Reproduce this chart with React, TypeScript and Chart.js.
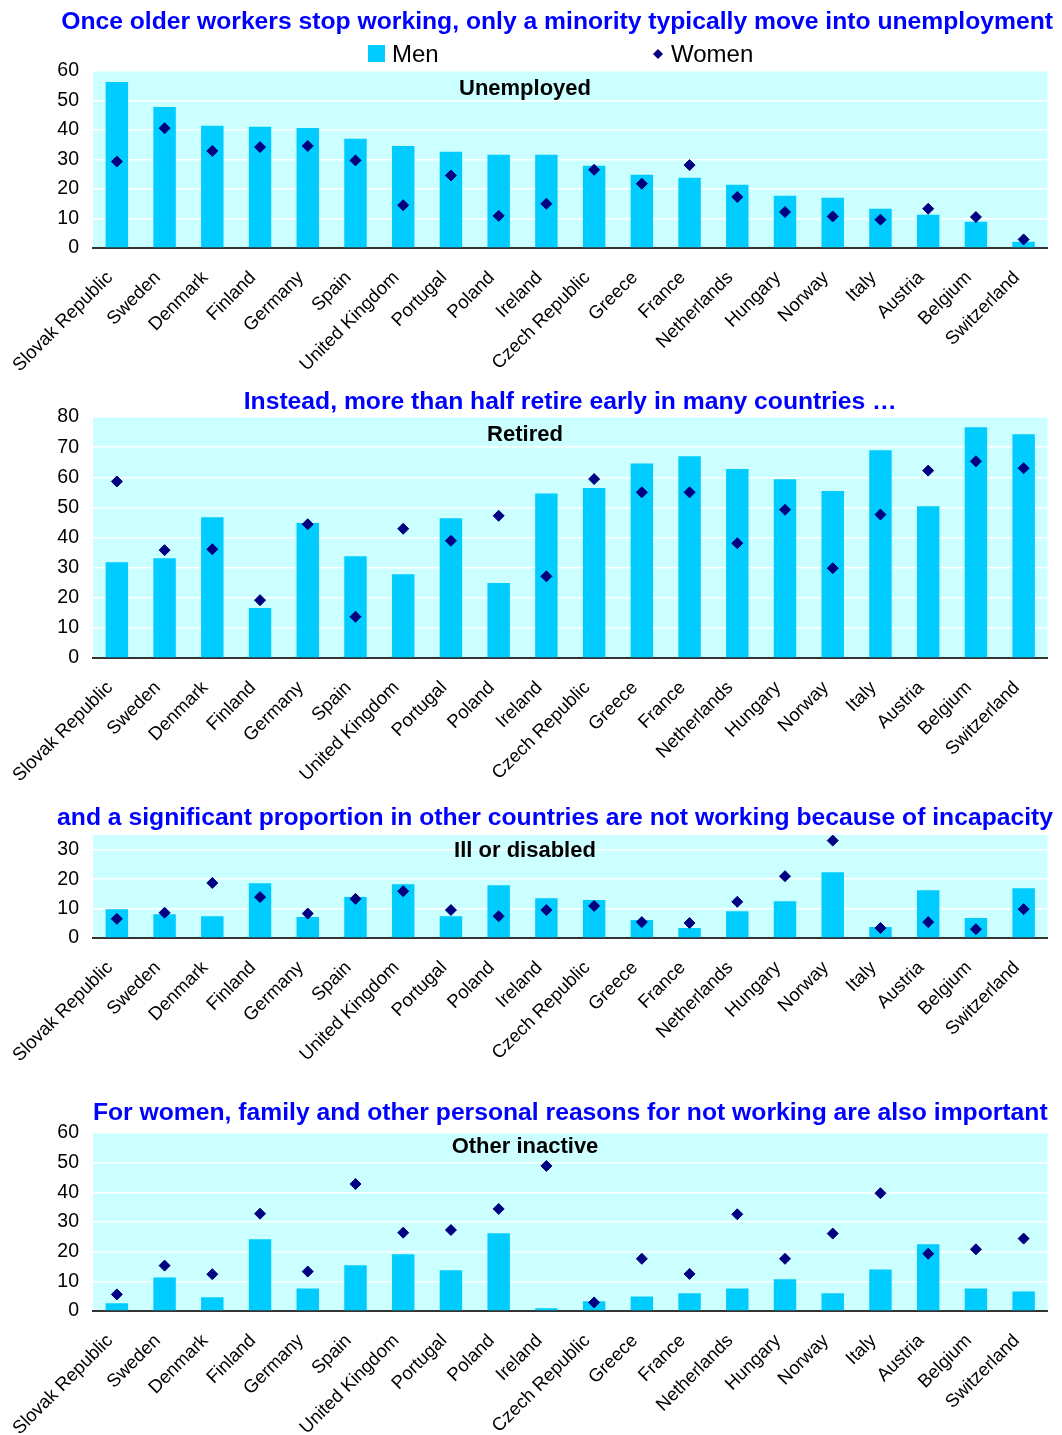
import React, { useEffect, useRef } from 'react';
import { Chart, registerables } from 'chart.js';

Chart.register(...registerables);

const countries = [
  'Slovak Republic', 'Sweden', 'Denmark', 'Finland', 'Germany', 'Spain', 'United Kingdom',
  'Portugal', 'Poland', 'Ireland', 'Czech Republic', 'Greece', 'France', 'Netherlands',
  'Hungary', 'Norway', 'Italy', 'Austria', 'Belgium', 'Switzerland',
];

const unemployedMen = [56.3, 47.8, 41.4, 41.1, 40.7, 37.0, 34.6, 32.6, 31.6, 31.6, 27.9, 24.8, 23.8, 21.4, 17.7, 17.0, 13.3, 11.3, 8.9, 2.1];
const unemployedWomen = [29.3, 40.6, 32.9, 34.2, 34.6, 29.7, 14.5, 24.6, 10.9, 15.0, 26.5, 21.8, 28.1, 17.3, 12.2, 10.7, 9.6, 13.3, 10.5, 2.9];
const retiredMen = [31.8, 33.1, 46.7, 16.6, 44.8, 33.8, 27.8, 46.4, 24.9, 54.6, 56.4, 64.6, 67.0, 62.7, 59.3, 55.4, 69.0, 50.4, 76.6, 74.3];
const retiredWomen = [58.6, 35.8, 36.1, 19.2, 44.4, 13.7, 42.9, 38.9, 47.2, 27.1, 59.4, 55.0, 55.0, 38.1, 49.2, 29.8, 47.6, 62.2, 65.3, 63.0];
const illMen = [9.8, 8.1, 7.4, 18.6, 7.1, 13.9, 18.3, 7.4, 17.9, 13.5, 12.9, 6.1, 3.4, 9.1, 12.5, 22.3, 3.7, 16.2, 6.8, 16.9];
const illWomen = [6.5, 8.6, 18.7, 13.9, 8.3, 13.3, 15.9, 9.5, 7.4, 9.5, 10.9, 5.4, 5.1, 12.3, 21.0, 33.1, 3.4, 5.4, 3.0, 9.8];
const otherMen = [2.6, 11.3, 4.6, 24.2, 7.6, 15.4, 19.1, 13.7, 26.2, 0.9, 3.3, 4.9, 6.0, 7.6, 10.7, 6.0, 14.0, 22.5, 7.6, 6.6];
const otherWomen = [5.6, 15.3, 12.4, 32.8, 13.3, 42.8, 26.4, 27.3, 34.4, 48.9, 2.9, 17.6, 12.5, 32.6, 17.6, 26.1, 39.7, 19.3, 20.8, 24.4];

const titles = [
  'Once older workers stop working, only a minority typically move into unemployment',
  'Instead, more than half retire early in many countries \u2026',
  'and a significant proportion in other countries are not working because of incapacity',
  'For women, family and other personal reasons for not working are also important',
];
const panelNames = ['Unemployed', 'Retired', 'Ill or disabled', 'Other inactive'];
const yMax = [60, 80, 35, 60];
const ticks60 = [0, 10, 20, 30, 40, 50, 60];
const ticks80 = [0, 10, 20, 30, 40, 50, 60, 70, 80];
const ticks30 = [0, 10, 20, 30];

const FONT = "'Liberation Sans', Arial, sans-serif";
const BAR = '#00CCFF';
const DOT = '#000080';
const PLOT_BG = '#CCFFFF';

type Panel = {
  title: string;
  name: string;
  men: number[];
  women: number[];
  max: number;
  tickVals: number[];
  height: number;
  padTop: number;
  xHeight: number;
  titleBase: number;
  nameOffset: number;
  legend: boolean;
};

const decorPlugin = {
  id: 'decor',
  beforeDraw(chart: any) {
    const { ctx, chartArea } = chart;
    ctx.save();
    ctx.fillStyle = PLOT_BG;
    ctx.fillRect(chartArea.left, chartArea.top, chartArea.right - chartArea.left, chartArea.bottom - chartArea.top);
    ctx.restore();
  },
  afterDraw(chart: any, _a: any, opts: any) {
    const { ctx, chartArea } = chart;
    ctx.save();
    // blue title
    ctx.font = `bold 24.7px ${FONT}`;
    ctx.fillStyle = '#0000FF';
    ctx.textBaseline = 'alphabetic';
    ctx.textAlign = 'center';
    const w = ctx.measureText(opts.title).width;
    let cx = (chartArea.left + chartArea.right) / 2;
    const rightLimit = chart.width - 1;
    if (cx + w / 2 > rightLimit) cx = rightLimit - w / 2;
    ctx.fillText(opts.title, cx, opts.titleBase);
    // panel name
    ctx.font = `bold 22px ${FONT}`;
    ctx.fillStyle = '#000000';
    ctx.fillText(opts.name, 517, chartArea.top + opts.nameOffset);
    // legend
    if (opts.legend) {
      ctx.fillStyle = BAR;
      ctx.fillRect(360, 37, 17, 17);
      ctx.font = `24px ${FONT}`;
      ctx.fillStyle = '#000000';
      ctx.textAlign = 'left';
      ctx.fillText('Men', 384, 54);
      ctx.fillStyle = DOT;
      ctx.beginPath();
      ctx.moveTo(650, 41);
      ctx.lineTo(655, 46);
      ctx.lineTo(650, 51);
      ctx.lineTo(645, 46);
      ctx.closePath();
      ctx.fill();
      ctx.fillStyle = '#000000';
      ctx.fillText('Women', 663, 54);
    }
    ctx.restore();
  },
};

function ChartPanel({ p }: { p: Panel }) {
  const ref = useRef<HTMLCanvasElement | null>(null);
  useEffect(() => {
    if (!ref.current) return;
    const chart = new Chart(ref.current, {
      type: 'bar',
      data: {
        labels: countries,
        datasets: [
          {
            type: 'line',
            label: 'Women',
            data: p.women,
            showLine: false,
            pointStyle: 'rectRot',
            pointRadius: 5.5,
            pointBorderWidth: 1,
            pointBackgroundColor: DOT,
            pointBorderColor: DOT,
            borderColor: DOT,
            backgroundColor: DOT,
            order: 0,
          } as any,
          {
            type: 'bar',
            label: 'Men',
            data: p.men,
            backgroundColor: BAR,
            borderWidth: 0,
            barPercentage: 0.47,
            categoryPercentage: 1.0,
            order: 1,
          },
        ],
      },
      options: {
        responsive: false,
        animation: false,
        layout: { padding: { top: p.padTop, left: 0, right: 3, bottom: 0 } },
        plugins: {
          legend: { display: false },
          title: { display: false },
          tooltip: { enabled: false },
          decor: {
            title: p.title,
            name: p.name,
            titleBase: p.titleBase,
            nameOffset: p.nameOffset,
            legend: p.legend,
          },
        } as any,
        scales: {
          x: {
            offset: true,
            grid: { display: false, drawTicks: false },
            border: { display: true, color: '#333333', width: 2 },
            ticks: {
              autoSkip: false,
              maxRotation: 45,
              minRotation: 45,
              padding: 19,
              labelOffset: -7,
              color: '#000000',
              font: { family: FONT, size: 18.5 },
            },
            afterFit: (s: any) => {
              s.height = p.xHeight;
              s.paddingLeft = 0;
              s.paddingRight = 0;
            },
          },
          y: {
            min: 0,
            max: p.max,
            grid: { color: '#FFFFFF', lineWidth: 1.5, drawTicks: false },
            border: { display: false },
            ticks: {
              stepSize: 10,
              padding: 14,
              color: '#000000',
              font: { family: FONT, size: 19.5 },
            },
            afterBuildTicks: (s: any) => {
              s.ticks = p.tickVals.map((v) => ({ value: v }));
            },
            afterFit: (s: any) => {
              s.width = 85;
            },
          },
        },
      },
      plugins: [decorPlugin],
    });
    return () => chart.destroy();
  }, [p]);
  return <canvas ref={ref} width={1046} height={p.height} style={{ display: 'block' }} />;
}

const panels: Panel[] = [
  { title: titles[0], name: panelNames[0], men: unemployedMen, women: unemployedWomen, max: yMax[0], tickVals: ticks60, height: 377, padTop: 63, xHeight: 137, titleBase: 21, nameOffset: 24, legend: true },
  { title: titles[1], name: panelNames[1], men: retiredMen, women: retiredWomen, max: yMax[1], tickVals: ticks80, height: 400, padTop: 32, xHeight: 127, titleBase: 24, nameOffset: 24, legend: false },
  { title: titles[2], name: panelNames[2], men: illMen, women: illWomen, max: yMax[2], tickVals: ticks30, height: 305, padTop: 50, xHeight: 152, titleBase: 40, nameOffset: 22, legend: false },
  { title: titles[3], name: panelNames[3], men: otherMen, women: otherWomen, max: yMax[3], tickVals: ticks60, height: 345, padTop: 43, xHeight: 124, titleBase: 30, nameOffset: 20, legend: false },
];

export default function App() {
  return (
    <div style={{ width: 1046 }}>
      {panels.map((p, i) => (
        <ChartPanel key={i} p={p} />
      ))}
    </div>
  );
}
